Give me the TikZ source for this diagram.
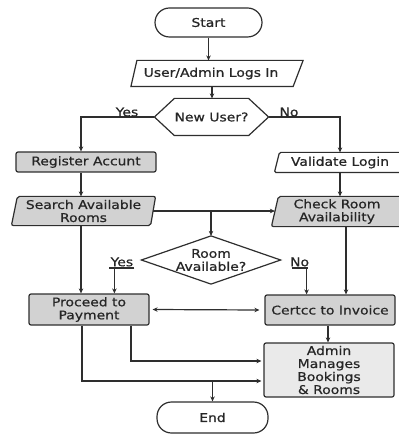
\documentclass[tikz,border=0pt]{standalone}
\usepackage{fontspec}
\setmainfont{DejaVu Sans}[FakeStretch=1.16,FakeBold=0.7]
\usetikzlibrary{arrows.meta,backgrounds,calc}
\definecolor{lineC}{HTML}{2E2E2E}
\definecolor{boxC}{HTML}{D2D2D2}
\definecolor{boxL}{HTML}{EAEAEA}
\begin{document}
\begin{tikzpicture}[x=1pt,y=-1pt,
  font=\fontsize{12}{13}\selectfont,
  line width=1.2pt, draw=lineC, text=black!85,
  arr/.style={draw=lineC,-{Stealth[length=5pt,width=4.5pt]}},
  dbl/.style={draw=lineC,{Stealth[length=5pt,width=4.5pt]}-{Stealth[length=5pt,width=4.5pt]}},
  ln/.style={draw=lineC},
  shp/.style={draw=lineC,line width=1.2pt},
  term/.style={draw=lineC,fill=white,rounded corners=14.5pt,inner sep=0pt,align=center},
  rbox/.style={draw=lineC,fill=boxC,rounded corners=2pt,inner sep=0pt,align=center},
  lbox/.style={draw=lineC,fill=boxL,rounded corners=2pt,inner sep=0pt,align=center},
  plain/.style={inner sep=0pt,align=center},
  lbl/.style={inner sep=0pt}
]
\useasboundingbox (0,0) rectangle (398,435);

% terminals
\node[term, minimum width=107pt, minimum height=29pt] (start) at (208.5,22.5) {Start};
\node[term, minimum width=111pt, minimum height=31pt] (end) at (212.5,417.5) {End};

% parallelograms and special shapes (outlines drawn on background)
\node[plain, minimum width=171pt, minimum height=25pt] (login) at (217,73.5) {\hspace*{-12pt}User/Admin Logs In};
\node[plain, minimum width=113pt, minimum height=36pt] (hex) at (211.5,117) {New User?};
\node[rbox, minimum width=140pt, minimum height=20pt] (reg) at (86,162) {Register Accunt};
\node[plain, minimum width=127pt, minimum height=19pt] (val) at (338.5,162.5) {\hspace*{3pt}Validate Login};
\node[plain, minimum width=143pt, minimum height=28pt] (search) at (83.5,211) {Search Available\\Rooms};
\node[plain, minimum width=130pt, minimum height=29pt] (check) at (337,211.5) {Check Room\\Availability};
\node[plain, minimum width=138pt, minimum height=47pt] (diam) at (211,260) {Room\\Available?};
\node[rbox, minimum width=120pt, minimum height=31pt] (pay) at (89,309.5) {Proceed to\\Payment};
\node[rbox, minimum width=130pt, minimum height=30pt] (inv) at (330,310) {Certcc to Invoice};
\node[lbox, minimum width=130pt, minimum height=54pt] (admin) at (329,370) {Admin\\Manages\\Bookings\\\& Rooms};

\begin{scope}[on background layer]
  % login parallelogram
  \draw[shp,fill=white] (login.south west) -- ($(login.north west)+(6,0)$) -- (login.north east) -- ($(login.south east)+(-10,0)$) -- cycle;
  % hexagon
  \draw[shp,fill=white] (hex.west) -- ($(hex.north west)+(20,0)$) -- ($(hex.north east)+(-20,0)$) -- (hex.east) -- ($(hex.south east)+(-20,0)$) -- ($(hex.south west)+(20,0)$) -- cycle;
  % validate
  \draw[shp,fill=white,rounded corners=1.5pt] (val.south west) -- ($(val.north west)+(5,0)$) -- ($(val.north east)+(4,0)$) -- ($(val.south east)+(4,0)$) -- cycle;
  % search
  \draw[shp,fill=boxC,rounded corners=2pt] (search.south west) -- ($(search.north west)+(6,0)$) -- (search.north east) -- ($(search.south east)+(-5,0)$) -- cycle;
  % check
  \draw[shp,fill=boxC,rounded corners=2pt] (check.south west) -- ($(check.north west)+(7,0)$) -- ($(check.north east)+(6,0)$) -- ($(check.south east)+(6,0)$) -- cycle;
  % diamond
  \draw[shp,fill=white] (diam.west) -- (diam.north) -- (diam.east) -- (diam.south) -- cycle;
\end{scope}

% connectors
\draw[arr] (start.south) -- (start.south |- login.north);
\draw[arr] ([xshift=-5pt]login.south) -- ([xshift=-5pt]login.south |- hex.north);
\draw[arr] (hex.west) -| ([xshift=-5pt]reg.north);
\draw[arr] (hex.east) -| ([xshift=1.5pt]val.north);
\node[lbl] at (127,112) {Yes};
\node[lbl] at (289,112) {No};
\draw[arr] ([xshift=-5pt]reg.south) -- ([xshift=-5pt]reg.south |- search.north);
\draw[arr] ([xshift=1.5pt]val.south) -- ([xshift=1.5pt]val.south |- check.north);
\draw[arr] ([xshift=-3pt]search.east) -- ($(search.east -| check.west)+(3.5,0)$);
\coordinate (br) at (search.east -| diam.north);
\draw[arr] (br) -- (diam.north);
% Yes / No branches of Room Available?
\coordinate (yr) at ($(diam.west)+(-7,8)$);
\coordinate (yl) at ($(yr)+(-25,0)$);
\coordinate (yv) at ($(yl)+(5,0)$);
\draw[ln] (yr) -- (yl);
\draw[arr] (yv) -- (yv |- pay.north);
\node[lbl, anchor=south] at ($(yl)!0.5!(yr)+(0,-1)$) {Yes};
\coordinate (nl) at ($(diam.east)+(11,8)$);
\coordinate (nr) at ($(nl)+(16,0)$);
\coordinate (nv) at ($(nr)+(-1,0)$);
\draw[ln] (nl) -- (nr);
\draw[arr] (nv) -- (nv |- inv.north);
\node[lbl, anchor=south] at ($(nl)!0.5!(nr)+(0,-1)$) {No};
\draw[arr] ([xshift=-2.5pt]search.south) -- ([xshift=-2.5pt]search.south |- pay.north);
\draw[arr] ([xshift=9pt]check.south) -- ([xshift=9pt]check.south |- inv.north);
\draw[dbl] ([xshift=3pt]pay.east) -- ([xshift=-5pt]inv.west);
\draw[arr] ([xshift=-2pt]inv.south) -- ([xshift=-2pt]inv.south |- admin.north);
\draw[arr] ([xshift=42pt]pay.south) |- ($(admin.west)+(-2,-9)$);
\coordinate (low) at ($(admin.west)+(-2,11)$);
\draw[arr] ([xshift=-7pt]pay.south) |- (low);
\draw[arr] (low -| end.north) -- (end.north);
\end{tikzpicture}
\end{document}
